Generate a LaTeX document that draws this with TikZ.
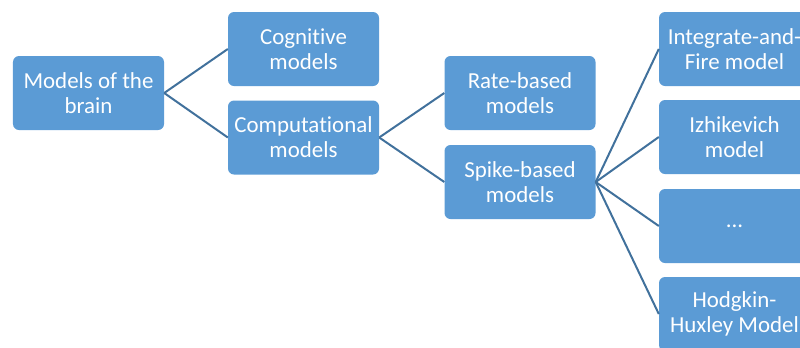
\documentclass[tikz,border=0pt]{standalone}
\usepackage{fontspec}
\setmainfont{Carlito}[Ligatures=NoCommon]
\usetikzlibrary{positioning}
\definecolor{boxblue}{RGB}{91,155,213}
\definecolor{linkblue}{RGB}{65,113,156}

\begin{document}
\begin{tikzpicture}[x=1bp,y=-1bp,
  box/.style={rectangle,rounded corners=6bp,fill=boxblue,draw=none,
    minimum width=151bp,minimum height=74bp,inner sep=0pt,
    text=white,align=center,font=\fontsize{23}{25}\selectfont},
  link/.style={draw=linkblue,line width=2bp}]
\useasboundingbox (0,0) rectangle (800,347);
\clip (0,0) rectangle (800,347);
% first and second level
\node[box] (brain) at (88.5,93) {Models of the\\brain};
\node[box] (cog) at (303.5,49) {Cognitive\\models};
\node[box] (comp) at (303.5,137.5) {Computational\\models};
% third level
\node[box] (rate) at (520,93) {Rate-based\\models};
\node[box] (spike) at (520,182) {Spike-based\\models};
% neuron models
\node[box] (iaf) at (734.5,49) {Integrate-and-\\Fire model};
\node[box] (izh) at (734.5,137) {Izhikevich\\model};
\node[box] (etc) at (734.5,226) {...};
\node[box] (hh) at (734.5,314) {Hodgkin-\\Huxley Model};
\draw[link] (brain.east) -- (cog.west);
\draw[link] (brain.east) -- (comp.west);
\draw[link] (comp.east) -- (rate.west);
\draw[link] (comp.east) -- (spike.west);
\foreach \n in {iaf,izh,etc,hh}
  \draw[link] (spike.east) -- (\n.west);
\end{tikzpicture}
\end{document}
